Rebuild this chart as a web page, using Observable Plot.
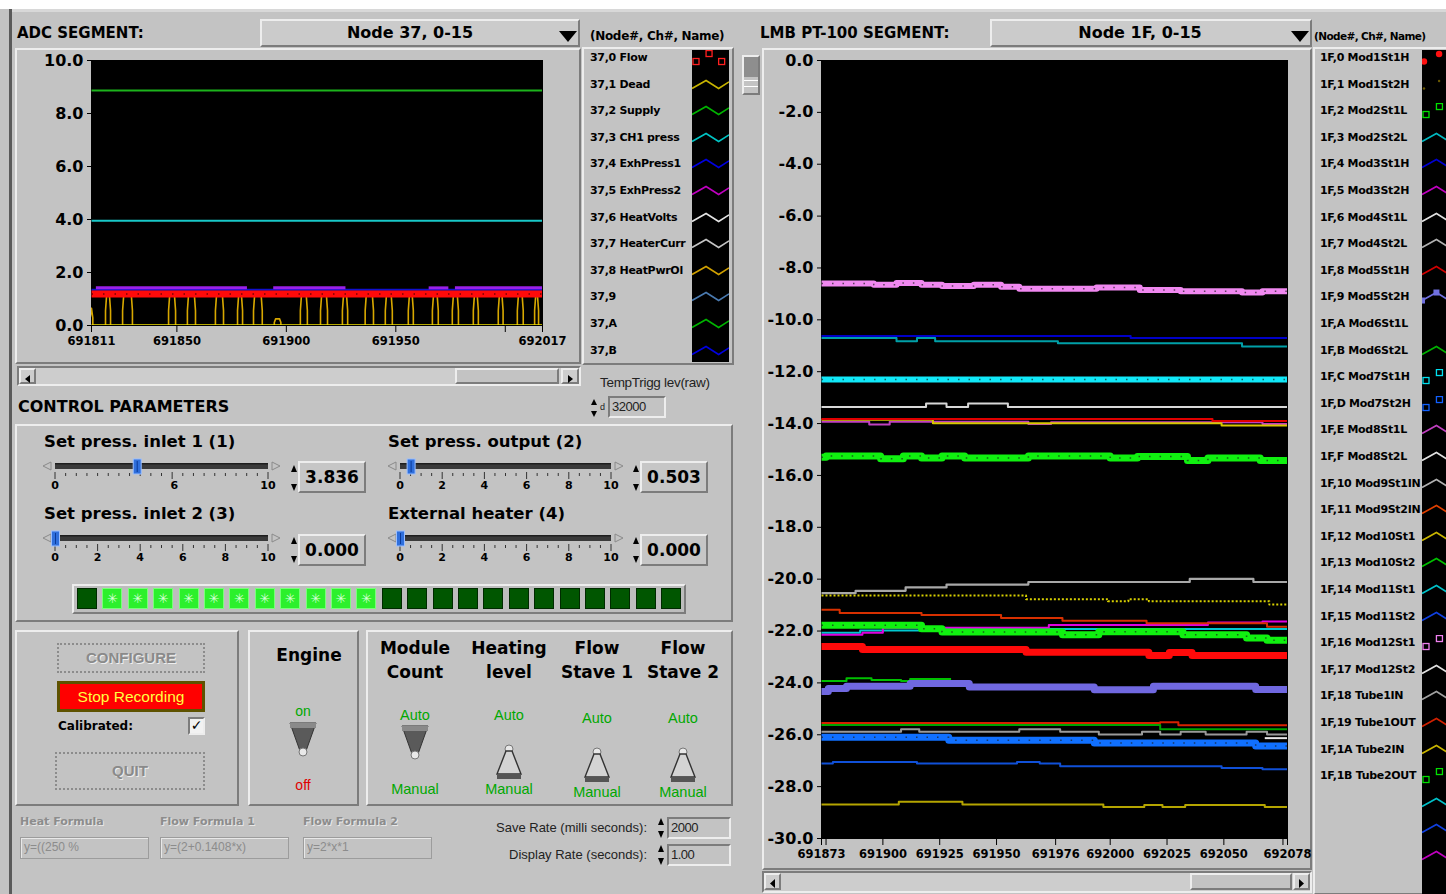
<!DOCTYPE html>
<html><head><meta charset="utf-8">
<script src="https://cdn.jsdelivr.net/npm/d3@7"></script>
<script src="https://cdn.jsdelivr.net/npm/@observablehq/plot@0.6"></script>
<style>
*{box-sizing:border-box}
body{margin:0;width:1446px;height:894px;overflow:hidden;background:#c3c3c3;position:relative;font-family:"DejaVu Sans",sans-serif;color:#000}
.abs{position:absolute}
.raised{border:2px solid;border-color:#ededed #7c7c7c #7c7c7c #ededed}
.sunk{border:2px solid;border-color:#7c7c7c #ededed #ededed #7c7c7c}
.t{position:absolute;white-space:nowrap;line-height:20px;height:20px}
</style></head><body>
<script>
// ================= DATA =================
// ADC segment (Node 37)
const adcDomainX = [691811, 692017];
const adcTicks = [691811, 691850, 691900, 691950, 692000, 692017];
const adcTickLabels = ["691811", "691850", "691900", "691950", "", "692017"];
const adcYTicks = [0, 2, 4, 6, 8, 10];
const adcSupply = [[691811, 8.87], [692017, 8.87]];
const adcCH1 = [[691811, 3.95], [692017, 3.95]];
const adcExh1 = [[691811, 1.35], [692017, 1.35]];
const adcExh2Runs = [[691813, 691882], [691894, 691927], [691965, 691974], [691977, 692017]];
const adcExh2Level = 1.42;
const adcFlow = [[691811, 1.19], [692017, 1.19]];
const adcHeatBase = [[691811, 0], [692017, 0]];
// yellow pulses: [start, end, height]
const adcDeadPulses = [
  [691810.4, 691811.6, 0.65], [691817.4, 691819.7, 1.25], [691825.2, 691829.7, 1.25], [691846.2, 691849.4, 1.25],
  [691854.8, 691858.5, 1.25], [691867.6, 691871.3, 1.25], [691877.7, 691880.0, 1.25], [691885.0, 691889.0, 1.25],
  [691894.5, 691897.5, 0.25], [691906.4, 691909.6, 1.25], [691915.6, 691918.8, 1.25], [691925.6, 691928.0, 1.25],
  [691936.0, 691939.8, 1.25], [691945.2, 691948.4, 1.25], [691955.7, 691958.0, 1.25], [691966.7, 691969.4, 1.25],
  [691975.8, 691978.6, 1.25], [691985.4, 691987.7, 1.25], [691996.8, 691999.0, 1.25], [692005.5, 692008.2, 1.25],
  [692013.4, 692015.2, 1.25]
];
const adcLegendNames = ["37,0 Flow", "37,1 Dead", "37,2 Supply", "37,3 CH1 press", "37,4 ExhPress1", "37,5 ExhPress2", "37,6 HeatVolts", "37,7 HeaterCurr", "37,8 HeatPwrOl", "37,9", "37,A", "37,B"];

// LMB PT-100 segment (Node 1F)
const lmbDomainX = [691873, 692078];
const lmbTicks = [691873, 691875, 691900, 691925, 691950, 691976, 692000, 692025, 692050, 692076, 692078];
const lmbTickLabels = ["691873", "", "691900", "691925", "691950", "691976", "692000", "692025", "692050", "", "692078"];
const lmbYTicks = [0, -2, -4, -6, -8, -10, -12, -14, -16, -18, -20, -22, -24, -26, -28, -30];
const lmbPinkSq = [[691873,-8.6],[691896,-8.65],[691906,-8.58],[691917,-8.65],[691926,-8.7],[691940,-8.65],[691952,-8.72],[691960,-8.8],[691994,-8.75],[692013,-8.85],[692031,-8.9],[692058,-8.95],[692067,-8.9],[692078,-8.95]];
const lmbDarkBlue = [[691873,-10.62],[692009,-10.7],[692078,-10.7]];
const lmbTeal = [[691873,-10.7],[691906,-10.83],[691915,-10.7],[691923,-10.83],[691977,-10.9],[692058,-11.03],[692078,-11.03]];
const lmbCyanSq = [[691873,-12.3],[692078,-12.3]];
const lmbWhite = [[691873,-13.36],[691919,-13.23],[691928,-13.36],[691937.5,-13.23],[691955,-13.36],[692078,-13.36]];
const lmbRedThin = [[691873,-13.82],[692045,-13.9],[692078,-13.9]];
const lmbYellow = [[691873,-13.85],[691922,-13.99],[692049,-14.07],[692078,-14.07]];
const lmbViolet = [[691873,-13.93],[691894,-14.04],[691903,-13.93],[691964,-14.02],[691974,-13.95],[692067,-14.02],[692078,-14.05]];
const lmbGreenSq = [[691873,-15.3],[691875,-15.25],[691899,-15.36],[691909,-15.25],[691917,-15.33],[691926,-15.25],[691936,-15.33],[691964,-15.25],[692000,-15.33],[692012,-15.27],[692034,-15.42],[692043,-15.33],[692066,-15.42],[692078,-15.42]];
const lmbGrey20 = [[691873,-20.54],[691888,-20.45],[691910,-20.32],[691928,-20.21],[691964,-20.11],[692035,-19.99],[692063,-20.11],[692078,-20.11]];
const lmbYellowDot = [[691873,-20.63],[691963,-20.77],[691999,-20.85],[692008,-20.77],[692017,-20.85],[692070,-20.98],[692078,-20.98]];
const lmbOrangeRed = [[691873,-21.18],[691881,-21.3],[691917,-21.38],[691952,-21.5],[691979,-21.6],[692016,-21.7],[692069,-21.83],[692078,-21.83]];
const lmbMagenta = [[691873,-22.14],[691891,-22.07],[691900,-21.87],[691973,-21.77],[692043,-21.67],[692067,-21.63],[692078,-21.63]];
const lmbCyanThin = [[691873,-22.07],[691890,-21.98],[691917,-21.92],[692078,-21.92]];
const lmbGreenSq2 = [[691873,-21.78],[691917,-21.91],[691926,-22.04],[691979,-22.14],[691995,-22.03],[692032,-22.14],[692060,-22.27],[692069,-22.36],[692078,-22.36]];
const lmbRedThick = [[691873,-22.6],[691891,-22.71],[691963,-22.82],[692017,-22.94],[692026,-22.83],[692036,-22.94],[692078,-22.94]];
const lmbGreenThin = [[691873,-23.93],[691884,-23.82],[691895,-23.89],[691908,-23.93],[691912,-23.85],[691930,-23.85]];
const lmbPurple = [[691873,-24.33],[691876,-24.22],[691884,-24.13],[691912,-24.02],[691938,-24.16],[691993,-24.26],[692019,-24.13],[692064,-24.25],[692078,-24.25]];
const lmbRedThin2 = [[691873,-25.55],[692022,-25.52],[692030,-25.63],[692078,-25.63]];
const lmbGreenThin2 = [[691873,-25.62],[692022,-25.79],[692078,-25.79]];
const lmbGrey26 = [[691873,-25.88],[691908,-25.79],[691916,-25.88],[691960,-25.79],[691978,-25.88],[691995,-25.99],[692014,-25.88],[692022,-25.99],[692031,-25.88],[692042,-25.99],[692060,-25.88],[692069,-25.99],[692078,-25.99]];
const lmbWhite26 = [[692068,-26.13],[692078,-26.13]];
const lmbBlueSq = [[691873,-26.1],[691929,-26.21],[691993,-26.32],[692064,-26.43],[692078,-26.43]];
const lmbDarkBlue2 = [[691873,-27.11],[691878,-27.05],[691915,-27.11],[691959,-27.05],[691969,-27.11],[691978,-27.21],[692049,-27.28],[692067,-27.33],[692078,-27.33]];
const lmbOlive = [[691873,-28.69],[691907,-28.58],[691935,-28.69],[691997,-28.79],[692015,-28.71],[692023,-28.79],[692033,-28.71],[692068,-28.79],[692078,-28.79]];
const lmbLegendNames = ["1F,0 Mod1St1H","1F,1 Mod1St2H","1F,2 Mod2St1L","1F,3 Mod2St2L","1F,4 Mod3St1H","1F,5 Mod3St2H","1F,6 Mod4St1L","1F,7 Mod4St2L","1F,8 Mod5St1H","1F,9 Mod5St2H","1F,A Mod6St1L","1F,B Mod6St2L","1F,C Mod7St1H","1F,D Mod7St2H","1F,E Mod8St1L","1F,F Mod8St2L","1F,10 Mod9St1IN","1F,11 Mod9St2IN","1F,12 Mod10St1","1F,13 Mod10St2","1F,14 Mod11St1","1F,15 Mod11St2","1F,16 Mod12St1","1F,17 Mod12St2","1F,18 Tube1IN","1F,19 Tube1OUT","1F,1A Tube2IN","1F,1B Tube2OUT","","",""];

// Control parameters
const sliderTitles = ["Set press. inlet 1 (1)", "Set press. output (2)", "Set press. inlet 2 (3)", "External heater (4)"];
const sliderValues = [3.836, 0.503, 0.000, 0.000];
const sliderLabelsA = [[0,"0"],[5.6,"6"],[10,"10"]];
const sliderLabelsB = [[0,"0"],[2,"2"],[4,"4"],[6,"6"],[8,"8"],[10,"10"]];
const ledStates = [0,1,1,1,1,1,1,1,1,1,1,1,0,0,0,0,0,0,0,0,0,0,0,0];
const switchHeads = [["Module","Count"],["Heating","level"],["Flow","Stave 1"],["Flow","Stave 2"]];
const switchAuto = [true, false, false, false];
const engineOn = true;
const formulaNames = ["Heat Formula", "Flow Formula 1", "Flow Formula 2"];
const formulaTexts = ["y=((250 %", "y=(2+0.1408*x)", "y=2*x*1"];
const saveRate = "2000", displayRate = "1.00", tempTrigg = "32000";

// ================= STYLES / HELPERS =================
const adcLegendColors = ["#ff2020","#c8b400","#00b400","#00c4c4","#0000e0","#c000c0","#e4e4e4","#c4c4c4","#d0a000","#4a7ab0","#00b400","#0000e0"];
const adcLegendKinds = ["sq","line","line","line","line","line","line","line","line","line","line","line"];
const lmbLegendColors = ["#ff1010","#6a5800","#00e000","#00b8c0","#0000d0","#c000c0","#e0e0e0","#b0b0b0","#d00000","#7070e0","#000","#00b000","#00e0f0","#1060ff","#c040c0","#e0e0e0","#b0b0b0","#e04000","#c8b400","#00c000","#00c0c8","#1040e0","#f080f0","#e0e0e0","#a0a0a0","#d02000","#c8b400","#00e000","#00c0c8","#1040e0","#c000c0"];
const lmbLegendKinds = ["dot","tiny","sq","line","line","line","line","line","line","linesq","none","line","sq","sq","line","line","line","line","line","line","line","line","sq","line","line","line","line","sq","line","line","line"];

function box(x,y,w,h,cls,html,extra){const d=document.createElement('div');d.className='abs '+(cls||'');d.style.cssText=`left:${x}px;top:${y}px;width:${w}px;height:${h}px;`+(extra||'');d.innerHTML=html||'';document.body.appendChild(d);return d;}
function T(x,cy,s,st,align){const d=document.createElement('div');d.className='t';let css=`top:${cy-10}px;`;if(!align||align==='left')css+=`left:${x}px;`;else if(align==='center')css+=`left:${x-200}px;width:400px;text-align:center;`;else css+=`right:${1446-x}px;text-align:right;`;d.style.cssText=css+(st||'');d.textContent=s;document.body.appendChild(d);return d;}
function swatch(kind,color,w,h){
  const p=`0,${h*0.72} ${w*0.38},${h*0.22} ${w*0.72},${h*0.72} ${w},${h*0.3}`;
  let s=`<svg width="${w}" height="${h}" style="position:absolute;left:0;top:0;overflow:hidden">`;
  if(kind==='line'||kind==='linesq')s+=`<polyline points="${p}" fill="none" stroke="${color}" stroke-width="1.6"/>`;
  if(kind==='linesq')s+=`<rect x="${w*0.38-3}" y="${h*0.22-3}" width="6" height="6" fill="${color}"/><rect x="-3" y="${h*0.72-3}" width="6" height="6" fill="${color}"/>`;
  if(kind==='sq')[[1,h*0.72],[w*0.38,h*0.22],[w*0.72,h*0.72]].forEach(([a,b])=>s+=`<rect x="${a}" y="${b-3}" width="6" height="6" fill="none" stroke="${color}" stroke-width="1.3"/>`);
  if(kind==='dot')[[2,h*0.72],[w*0.45,h*0.25]].forEach(([a,b])=>s+=`<circle cx="${a}" cy="${b}" r="3.2" fill="${color}"/>`);
  if(kind==='tiny')[[2,h*0.72],[w*0.45,h*0.25]].forEach(([a,b])=>s+=`<circle cx="${a}" cy="${b}" r="1.2" fill="${color}"/>`);
  return s+'</svg>';
}
const bold=(px)=>`font-weight:bold;font-size:${px}px;`;
const lib='font-family:"Liberation Sans",sans-serif;';

// ================= FRAME / BACKGROUND =================
box(0,0,1446,9,'','','background:#fff');
box(9,9,3,885,'','','background:#5a5a5a');
box(12,9,1434,3,'','','background:#d8d8d8');

// ---- ADC header
T(17,33,"ADC SEGMENT:",bold(15));
box(260,19,320,28,'raised','','background:#cbcbcb');
T(410,33,"Node 37, 0-15",bold(16),'center');
box(559,28,18,12,'','<svg width="18" height="12"><polygon points="0,0 18,0 9,11" fill="#000"/></svg>');
T(590,36,"(Node#, Ch#, Name)",bold(12)+'letter-spacing:-0.3px');
box(15,48,566,316,'raised');
box(582,47,152,318,'raised');
box(692,50,37,312,'','','background:#000');
adcLegendNames.forEach((n,i)=>{const cy=58+i*26.6;T(590,cy,n,bold(11)+'letter-spacing:-0.3px;width:102px;overflow:hidden');box(692,cy-8,37,16,'',swatch(adcLegendKinds[i],adcLegendColors[i],37,16));});

// ADC scrollbar
box(17,366,564,20,'sunk','','background:#cdcdcd');
box(19,368,17,16,'raised','<svg width="13" height="12"><polygon points="4,6 9,2 9,10" fill="#000"/></svg>');
box(455,368,104,16,'raised','','background:#c3c3c3');
box(561,368,18,16,'raised','<svg width="14" height="12"><polygon points="10,6 5,2 5,10" fill="#000"/></svg>');

// TempTrigg
T(600,383,"TempTrigg lev(raw)",lib+'font-size:13.5px;color:#222;letter-spacing:-0.3px');
box(590,398,8,20,'','<svg width="8" height="20"><polygon points="4,1 7,7 1,7" fill="#000"/><polygon points="4,19 7,13 1,13" fill="#000"/></svg>');
T(600,407,"d",lib+'font-size:9px;color:#222');
box(608,396,58,22,'sunk',tempTrigg,lib+'font-size:13px;line-height:18px;padding-left:2px;color:#222;letter-spacing:-0.5px');

// ---- CONTROL PARAMETERS
T(18,407,"CONTROL PARAMETERS",bold(16));
box(15,424,718,198,'raised');
function slider(x0,x1,ty,value,labels,title,tx,tcy,valX){
  T(tx,tcy,title,bold(16.5));
  const w=x1-x0;const W=w+40;
  let s=`<svg width="${W}" height="40" style="overflow:visible">`;
  const ox=18;
  s+=`<polygon points="${ox-12},6 ${ox-4},2 ${ox-4},10" fill="none" stroke="#8a8a8a"/>`;
  s+=`<polygon points="${ox+w+12},6 ${ox+w+4},2 ${ox+w+4},10" fill="none" stroke="#8a8a8a"/>`;
  s+=`<rect x="${ox}" y="3" width="${w}" height="6" fill="#3a3a3a"/><rect x="${ox}" y="3" width="${w}" height="1.5" fill="#1e1e1e"/>`;
  const majors=labels.map(l=>l[0]);
  for(let i=0;i<=20;i++){const v=i/2;const x=ox+v/10*w;const maj=majors.some(m=>Math.abs(m-v)<0.3);s+=`<line x1="${x}" x2="${x}" y1="${maj?12:13}" y2="${maj?19:16}" stroke="#333" stroke-width="1"/>`;}
  labels.forEach(([v,t])=>{s+=`<text x="${ox+v/10*w}" y="29" text-anchor="middle" font-size="11" font-weight="bold" font-family="DejaVu Sans">${t}</text>`;});
  const tx0=ox+value/10*w;
  s+=`<rect x="${tx0-3.5}" y="-1" width="8" height="15" fill="#2f6fdc" stroke="#9cc0ff" stroke-width="1"/><line x1="${tx0+0.5}" x2="${tx0+0.5}" y1="1" y2="12" stroke="#0a3a9a"/>`;
  s+='</svg>';
  box(x0-ox,ty-6,W,40,'',s);
  box(valX-8,ty-3,8,30,'','<svg width="8" height="30"><polygon points="4,2 7,9 1,9" fill="#000"/><polygon points="4,28 7,21 1,21" fill="#000"/></svg>');
}
slider(55,268,466,sliderValues[0],sliderLabelsA,sliderTitles[0],44,442,298);
slider(400,611,466,sliderValues[1],sliderLabelsB,sliderTitles[1],388,442,640);
slider(55,268,538,sliderValues[2],sliderLabelsB,sliderTitles[2],44,514,298);
slider(400,611,538,sliderValues[3],sliderLabelsB,sliderTitles[3],388,514,640);
[[298,461,sliderValues[0]],[640,461,sliderValues[1]],[298,534,sliderValues[2]],[640,534,sliderValues[3]]].forEach(([x,y,v])=>{
  box(x,y,68,32,'raised',v.toFixed(3),bold(17)+'line-height:28px;text-align:center;background:#c6c6c6');
});
box(72,584,614,30,'raised','','background:#bdbdbd');
ledStates.forEach((on,i)=>{box(77+i*25.4,588,20,21,'',on?'✳':'',`background:${on?'#2cf02c':'#005600'};border:1px solid ${on?'#7aff7a':'#002a00'};color:#d8ffd8;font-size:13px;line-height:19px;text-align:center`);});

// ---- bottom panels
box(15,630,224,176,'raised');
const btnDis=lib+'border:2px dotted #8c8c8c;color:#8a8a8a;text-align:center;text-shadow:1px 1px 0 #eee;font-size:15px;font-weight:bold;';
box(57,643,148,30,'','CONFIGURE',btnDis+'line-height:26px');
box(57,681,148,31,'','Stop Recording',lib+'background:#ff0000;border:3px solid #5e5200;color:#ffff40;text-align:center;font-size:15.5px;line-height:25px');
T(58,726,"Calibrated:",bold(12));
box(188,717,17,18,'sunk','✓','background:#f2f2f2;font-size:14px;line-height:13px;text-align:center;font-weight:bold');
box(55,752,150,38,'','QUIT',btnDis+'line-height:34px');

function toggle(cx,y,down){
  let s;
  if(down) s=`<svg width="30" height="36"><polygon points="2,2 28,2 18,30 12,30" fill="#5a5a5a" stroke="#333"/><rect x="2" y="2" width="26" height="5" fill="#8a8a8a"/><circle cx="15" cy="31" r="4" fill="#e8e8e8" stroke="#777"/></svg>`;
  else s=`<svg width="30" height="38"><circle cx="15" cy="5" r="4" fill="#e8e8e8" stroke="#777"/><polygon points="12,7 18,7 27,30 3,30" fill="#d4d4d4" stroke="#333" stroke-width="1.4"/><rect x="3" y="30" width="24" height="5" fill="#555"/></svg>`;
  box(cx-15,y,30,38,'',s);
}
box(248,630,111,176,'raised');
T(309,655,"Engine",bold(17),'center');
T(303,711,"on",lib+'font-size:14px;color:#00a800','center');
toggle(303,721,engineOn);
T(303,785,"off",lib+'font-size:14px;color:#e00000','center');

box(366,630,367,176,'raised');
const swX=[415,509,597,683];
switchHeads.forEach(([a,b],i)=>{T(swX[i],648,a,bold(17),'center');T(swX[i],672,b,bold(17),'center');
  const off=i<2?0:3;
  T(swX[i],715+off,"Auto",lib+'font-size:14.5px;color:#00a800','center');
  toggle(swX[i],switchAuto[i]?724:744+off,switchAuto[i]);
  T(swX[i],789+off,"Manual",lib+'font-size:14.5px;color:#00a800','center');
});

// formulas
const fX=[20,160,303];
formulaNames.forEach((n,i)=>{T(fX[i],822,n,bold(11)+'color:#8c8c8c;text-shadow:1px 1px 0 #e8e8e8');
  box(fX[i],837,129,22,'',formulaTexts[i],lib+'border:1px solid #9c9c9c;box-shadow:1px 1px 0 #e8e8e8 inset;color:#8c8c8c;font-size:12px;line-height:19px;padding-left:3px;overflow:hidden');});
T(647,828,"Save Rate (milli seconds):",lib+'font-size:13px;color:#222','right');
T(647,855,"Display Rate (seconds):",lib+'font-size:13px;color:#222','right');
[[817,saveRate],[844,displayRate]].forEach(([y,v])=>{
  box(657,y,8,22,'','<svg width="8" height="22"><polygon points="4,1 7,8 1,8" fill="#000"/><polygon points="4,21 7,14 1,14" fill="#000"/></svg>');
  box(667,y,64,22,'sunk',v,lib+'font-size:13px;line-height:18px;padding-left:2px;color:#222;letter-spacing:-0.5px');
});

// ---- LMB header
T(760,33,"LMB PT-100 SEGMENT:",bold(15));
box(990,19,322,28,'raised','','background:#cbcbcb');
T(1140,33,"Node 1F, 0-15",bold(16),'center');
box(1291,28,18,12,'','<svg width="18" height="12"><polygon points="0,0 18,0 9,11" fill="#000"/></svg>');
T(1314,36,"(Node#, Ch#, Name)",bold(10.5)+'letter-spacing:-0.6px');
box(742,55,18,40,'raised','<div style="height:20px;background:#8e8e8e"></div><div style="height:1px;background:#fff;margin-top:3px"></div><div style="height:1px;background:#fff;margin-top:5px"></div>');
box(762,48,550,822,'raised');
box(1313,47,140,848,'raised');
box(1422,50,30,844,'','','background:#000');
lmbLegendNames.forEach((n,i)=>{const cy=58+i*26.6;if(n)T(1320,cy,n,bold(11)+'letter-spacing:-0.3px;width:102px;overflow:hidden');box(1422,cy-8,24,16,'',swatch(lmbLegendKinds[i],lmbLegendColors[i],38,16),'overflow:hidden');});
box(762,871,550,22,'sunk','','background:#cdcdcd');
box(764,873,17,17,'raised','<svg width="13" height="13"><polygon points="4,6.5 9,2 9,11" fill="#000"/></svg>');
box(1190,873,102,17,'raised','','background:#c3c3c3');
box(1293,873,17,17,'raised','<svg width="13" height="13"><polygon points="9,6.5 4,2 4,11" fill="#000"/></svg>');

// ================= PLOTS =================
const fx=d=>d[0], fy=d=>d[1];
const f1=d=>d.toFixed(1);
function place(node,x,y){node.style.position='absolute';node.style.left=x+'px';node.style.top=y+'px';document.body.appendChild(node);}
const baseStyle={background:"transparent",color:"#000",fontFamily:"DejaVu Sans",overflow:"visible"};
const L={clip:true,strokeLinecap:"butt"};

const adcLabelMap=new Map(adcTicks.map((t,i)=>[t,adcTickLabels[i]]));
const adcPulsePts=adcDeadPulses.flatMap(([a,b,h],k)=>[[a,0,k],[a,h*0.45,k],[a+0.6,h,k],[b-0.6,h,k],[b,h*0.45,k],[b,0,k]]);
const adcExh2Pts=adcExh2Runs.flatMap(([a,b],k)=>[[a,adcExh2Level,k],[b,adcExh2Level,k]]);
const adcPlot=Plot.plot({
  width:560,height:310,marginLeft:75,marginRight:34,marginTop:10,marginBottom:35,
  x:{domain:adcDomainX,label:null},y:{domain:[0,10],label:null},
  style:baseStyle,
  marks:[
    Plot.frame({fill:"#000",stroke:"#000"}),
    Plot.line(adcSupply,{x:fx,y:fy,stroke:"#1cb41c",strokeWidth:2,...L}),
    Plot.line(adcCH1,{x:fx,y:fy,stroke:"#18c8c8",strokeWidth:2,...L}),
    Plot.line(adcPulsePts,{x:fx,y:fy,z:d=>d[2],stroke:"#d8a800",strokeWidth:1.6,...L}),
    Plot.line(adcHeatBase,{x:fx,y:fy,stroke:"#f0e000",strokeWidth:2.5,...L}),
    Plot.line(adcExh1,{x:fx,y:fy,stroke:"#1010d0",strokeWidth:2,...L}),
    Plot.line(adcExh2Pts,{x:fx,y:fy,z:d=>d[2],stroke:"#9a20e8",strokeWidth:3,...L}),
    Plot.line(adcFlow,{x:fx,y:fy,stroke:"#ff0a0a",strokeWidth:7,...L}),
    Plot.line(adcFlow,{x:fx,y:fy,stroke:"#7a0000",strokeWidth:1.5,strokeDasharray:"1.5 10",...L}),
    Plot.axisY({ticks:adcYTicks,tickFormat:f1,tickSize:4,tickPadding:4,fontSize:16,fontWeight:"bold",label:null}),
    Plot.axisX({ticks:adcTicks,tickFormat:d=>adcLabelMap.get(d),tickSize:7,tickPadding:4,fontSize:11.5,fontWeight:"bold",label:null})
  ]
});
place(adcPlot,16,50);

const lmbLabelMap=new Map(lmbTicks.map((t,i)=>[t,lmbTickLabels[i]]));
const lmbLayers=[
  [lmbOlive,"#b4a400",2],[lmbDarkBlue2,"#1050d8",2],[lmbGrey26,"#9a9a9a",2],[lmbWhite26,"#e8e8e8",2],[lmbGreenThin2,"#00a400",2],[lmbRedThin2,"#d82000",2],
  [lmbGreenThin,"#00c000",2],[lmbCyanThin,"#00c8d0",2],[lmbMagenta,"#e000e0",2],[lmbOrangeRed,"#d83000",2],
  [lmbYellowDot,"#d8d000",2,"2 2"],[lmbGrey20,"#a8a8a8",2.2],
  [lmbViolet,"#c040c0",2],[lmbYellow,"#d8c800",2],[lmbRedThin,"#e00000",2],[lmbWhite,"#d8d8d8",2],
  [lmbTeal,"#00a0a8",2],[lmbDarkBlue,"#0000c8",2],
  [lmbPurple,"#7068e0",7],[lmbRedThick,"#ff0a0a",7],[lmbGreenSq2,"#10f010",7,null,true],[lmbBlueSq,"#1070ff",7,null,true],
  [lmbGreenSq,"#10f010",7,null,true],[lmbCyanSq,"#10e8f8",6,null,true],[lmbPinkSq,"#f088f0",6,null,true]
];
const lmbMarks=[Plot.frame({fill:"#000",stroke:"#000"})];
lmbLayers.forEach(([data,color,w,dash,dots])=>{
  lmbMarks.push(Plot.line(data,{x:fx,y:fy,stroke:color,strokeWidth:w,curve:"step-after",strokeDasharray:dash||null,...L}));
  if(dots)lmbMarks.push(Plot.line(data,{x:fx,y:fy,stroke:"#202020",strokeWidth:1.5,curve:"step-after",strokeDasharray:"1.5 9",strokeOpacity:0.7,...L}));
});
lmbMarks.push(Plot.axisY({ticks:lmbYTicks,tickFormat:f1,tickSize:4,tickPadding:4,fontSize:16,fontWeight:"bold",label:null}));
lmbMarks.push(Plot.axisX({ticks:lmbTicks,tickFormat:d=>lmbLabelMap.get(d),tickSize:7,tickPadding:4,fontSize:11.5,fontWeight:"bold",label:null}));
const lmbPlot=Plot.plot({
  width:550,height:815,marginLeft:59,marginRight:25,marginTop:10,marginBottom:27,
  x:{domain:lmbDomainX,label:null},y:{domain:[-30,0],label:null},
  style:baseStyle,marks:lmbMarks
});
place(lmbPlot,762,50);
</script>
</body></html>
